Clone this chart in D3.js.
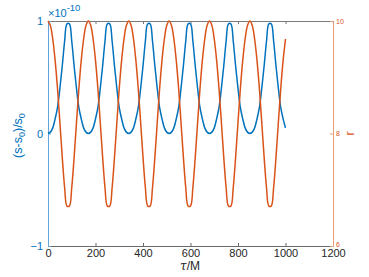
<!DOCTYPE html>
<html>
<head>
<meta charset="utf-8">
<script src="https://cdn.jsdelivr.net/npm/d3@7"></script>
<style>
body { margin: 0; background: #fff; }
svg { display: block; font-family: "Liberation Sans", Arial, sans-serif; }
</style>
</head>
<body>
<div id="chart"></div>
<script>
// sample times (tau/M)
const tau = [
    0, 10, 20, 30, 40, 50, 60, 70, 80, 90, 100, 110, 120, 130, 140, 150, 160,
    170, 180, 190, 200, 210, 220, 230, 240, 250, 260, 270, 280, 290, 300, 310, 320,
    330, 340, 350, 360, 370, 380, 390, 400, 410, 420, 430, 440, 450, 460, 470, 480, 490,
    500, 510, 520, 530, 540, 550, 560, 570, 580, 590, 600, 610, 620, 630, 640, 650, 660,
    670, 680, 690, 700, 710, 720, 730, 740, 750, 760, 770, 780, 790, 800, 810, 820, 830,
    840, 850, 860, 870, 880, 890, 900, 910, 920, 930, 940, 950, 960, 970, 980, 990, 1000
];

// (s-s0)/s0 in units of 1e-10 (left axis)
const sRel = [
    0, 0.012, 0.05, 0.13, 0.23, 0.40, 0.60, 0.82, 0.975, 0.975, 0.82, 0.60, 0.40, 0.23, 0.13, 0.05, 0.012,
    0, 0.012, 0.05, 0.13, 0.23, 0.40, 0.60, 0.82, 0.975, 0.975, 0.82, 0.60, 0.40, 0.23, 0.13, 0.05, 0.012,
    0, 0.012, 0.05, 0.13, 0.23, 0.40, 0.60, 0.82, 0.975, 0.975, 0.82, 0.60, 0.40, 0.23, 0.13, 0.05, 0.012,
    0, 0.012, 0.05, 0.13, 0.23, 0.40, 0.60, 0.82, 0.975, 0.975, 0.82, 0.60, 0.40, 0.23, 0.13, 0.05, 0.012,
    0, 0.012, 0.05, 0.13, 0.23, 0.40, 0.60, 0.82, 0.975, 0.975, 0.82, 0.60, 0.40, 0.23, 0.13, 0.05, 0.012,
    0, 0.012, 0.05, 0.13, 0.23, 0.40, 0.60, 0.82, 0.975, 0.975, 0.82, 0.60, 0.40, 0.23, 0.13, 0.05
];

// radius r (right axis)
const rVals = [
    10.00, 9.92, 9.68, 9.30, 8.80, 8.20, 7.58, 7.04, 6.71, 6.71, 7.04, 7.58, 8.20, 8.80, 9.30, 9.68, 9.92,
    10.00, 9.92, 9.68, 9.30, 8.80, 8.20, 7.58, 7.04, 6.71, 6.71, 7.04, 7.58, 8.20, 8.80, 9.30, 9.68, 9.92,
    10.00, 9.92, 9.68, 9.30, 8.80, 8.20, 7.58, 7.04, 6.71, 6.71, 7.04, 7.58, 8.20, 8.80, 9.30, 9.68, 9.92,
    10.00, 9.92, 9.68, 9.30, 8.80, 8.20, 7.58, 7.04, 6.71, 6.71, 7.04, 7.58, 8.20, 8.80, 9.30, 9.68, 9.92,
    10.00, 9.92, 9.68, 9.30, 8.80, 8.20, 7.58, 7.04, 6.71, 6.71, 7.04, 7.58, 8.20, 8.80, 9.30, 9.68, 9.92,
    10.00, 9.92, 9.68, 9.30, 8.80, 8.20, 7.58, 7.04, 6.71, 6.71, 7.04, 7.58, 8.20, 8.80, 9.30, 9.68
];

const xTicks = [0, 200, 400, 600, 800, 1000, 1200];
const leftTicks = [-1, 0, 1];
const rightTicks = [6, 8, 10];

const WIDTH = 369;
const HEIGHT = 277;
const LEFT = 48, RIGHT = 333, TOP = 21, BOTTOM = 246;
const BLUE = '#0072BD';
const ORANGE = '#D95319';

const svg = d3.select('#chart')
    .append('svg')
    .attr('width', WIDTH)
    .attr('height', HEIGHT);

svg.append('rect').attr('width', WIDTH).attr('height', HEIGHT).attr('fill', '#fff');

const x = d3.scaleLinear().domain([0, 1200]).range([LEFT, RIGHT]);
const yL = d3.scaleLinear().domain([-1, 1]).range([BOTTOM, TOP]);
const yR = d3.scaleLinear().domain([6, 10]).range([BOTTOM, TOP]);
const fmt = d3.format('d');

// top box line with inner ticks
const topAxis = svg.append('g')
    .attr('transform', `translate(0,${TOP})`)
    .call(d3.axisTop(x).tickValues(xTicks).tickSizeInner(-3).tickSizeOuter(0).tickFormat(''));
topAxis.selectAll('path, line').attr('stroke', '#7a7a7a');

// bottom axis
const xAxis = svg.append('g')
    .attr('transform', `translate(0,${BOTTOM})`)
    .call(d3.axisBottom(x).tickValues(xTicks).tickFormat(fmt).tickSizeInner(-3).tickSizeOuter(0).tickPadding(3));
xAxis.selectAll('path, line').attr('stroke', '#6a6a6a');
xAxis.selectAll('text').attr('font-size', 11).attr('fill', '#262626');

// left axis
const leftAxis = svg.append('g')
    .attr('transform', `translate(${LEFT},0)`)
    .call(d3.axisLeft(yL).tickValues(leftTicks).tickFormat(fmt).tickSizeInner(-3).tickSizeOuter(0).tickPadding(5));
leftAxis.selectAll('path, line').attr('stroke', '#5fa5db');
leftAxis.selectAll('text').attr('font-size', 11).attr('fill', BLUE);

// right axis
const rightAxis = svg.append('g')
    .attr('transform', `translate(${RIGHT},0)`)
    .call(d3.axisRight(yR).tickValues(rightTicks).tickFormat(fmt).tickSizeInner(-3).tickSizeOuter(0).tickPadding(3));
rightAxis.selectAll('path, line').attr('stroke', '#eb9b77');
rightAxis.selectAll('text')
    .attr('font-size', 7)
    .attr('fill', ORANGE)
    .attr('dy', d => d === 6 ? '0.1em' : '0.32em');

// lines
const lineL = d3.line()
    .x((d, i) => x(tau[i]))
    .y(d => yL(d))
    .curve(d3.curveCatmullRom);
const lineR = d3.line()
    .x((d, i) => x(tau[i]))
    .y(d => yR(d))
    .curve(d3.curveCatmullRom);

svg.append('path')
    .datum(sRel)
    .attr('d', lineL)
    .attr('fill', 'none')
    .attr('stroke', BLUE)
    .attr('stroke-width', 1.5);

svg.append('path')
    .datum(rVals)
    .attr('d', lineR)
    .attr('fill', 'none')
    .attr('stroke', ORANGE)
    .attr('stroke-width', 1.5);

// exponent label
const expo = svg.append('text')
    .attr('x', LEFT)
    .attr('y', 17)
    .attr('font-size', 11)
    .attr('fill', BLUE)
    .text('\u00d710');
expo.append('tspan')
    .attr('font-size', 9.5)
    .attr('dy', -6)
    .text('-10');

// left label
const yLabel = svg.append('text')
    .attr('transform', `translate(22,${(TOP + BOTTOM) / 2 + 2}) rotate(-90)`)
    .attr('text-anchor', 'middle')
    .attr('font-size', 12.5)
    .attr('fill', BLUE);
yLabel.append('tspan').text('(s-s');
yLabel.append('tspan').attr('font-size', 9).attr('dy', 3).text('0');
yLabel.append('tspan').attr('dy', -3).text(')/s');
yLabel.append('tspan').attr('font-size', 9).attr('dy', 3).text('0');

// right label
svg.append('text')
    .attr('transform', `translate(354,${(TOP + BOTTOM) / 2}) rotate(-90)`)
    .attr('text-anchor', 'middle')
    .attr('font-size', 12.5)
    .attr('fill', ORANGE)
    .text('r');

// x label
const xLabel = svg.append('text')
    .attr('x', 190)
    .attr('y', 270)
    .attr('text-anchor', 'middle')
    .attr('font-size', 12)
    .attr('fill', '#262626');
xLabel.append('tspan').attr('font-family', '"DejaVu Serif", serif').attr('font-style', 'italic').text('\u03c4');
xLabel.append('tspan').text('/M');
</script>
</body>
</html>
